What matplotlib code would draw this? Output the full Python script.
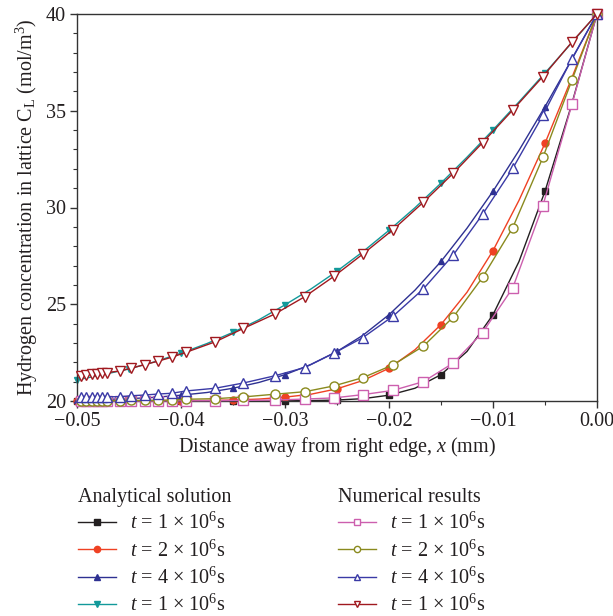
import matplotlib
matplotlib.use("Agg")
import matplotlib.pyplot as plt
from matplotlib.ticker import MultipleLocator, FuncFormatter
from matplotlib.lines import Line2D

plt.rcParams['font.family'] = ['Liberation Serif', 'DejaVu Serif']
plt.rcParams['mathtext.fontset'] = 'custom'
plt.rcParams['mathtext.rm'] = 'Liberation Serif'
plt.rcParams['mathtext.it'] = 'Liberation Serif:italic'

# ---- data ----
# analytical: x every 0.0025 mm (markers every 0.005 mm)
x_ana = [-0.05, -0.0475, -0.045, -0.0425, -0.04, -0.0375, -0.035, -0.0325, -0.03, -0.0275,
         -0.025, -0.0225, -0.02, -0.0175, -0.015, -0.0125, -0.01, -0.0075, -0.005, -0.0025, 0.0]
ana_t1 = [20.0, 20.0, 20.0, 20.0, 20.0, 20.0, 20.0, 20.0, 20.01, 20.02,
          20.05, 20.12, 20.30, 20.66, 21.36, 22.56, 24.46, 27.21, 30.84, 35.21, 40.0]
ana_t2 = [20.0, 20.0, 20.0, 20.0, 20.01, 20.03, 20.05, 20.10, 20.20, 20.35,
          20.63, 21.06, 21.69, 22.65, 23.95, 25.62, 27.77, 30.37, 33.32, 36.59, 40.0]
ana_t4 = [20.05, 20.08, 20.12, 20.19, 20.30, 20.44, 20.66, 20.96, 21.36, 21.89,
          22.56, 23.40, 24.46, 25.73, 27.21, 28.93, 30.84, 32.95, 35.21, 37.58, 40.0]
ana_t10 = [21.09, 21.36, 21.66, 22.03, 22.47, 22.97, 23.55, 24.20, 24.97, 25.79,
           26.71, 27.72, 28.82, 29.99, 31.26, 32.60, 34.01, 35.46, 36.95, 38.47, 40.0]

# numerical: non-uniform mesh
x_num = [-0.0496, -0.0491, -0.0486, -0.0481, -0.0476, -0.0471, -0.0459, -0.0448, -0.0435,
         -0.0422, -0.0409, -0.0395, -0.0367, -0.0340, -0.0310, -0.0281, -0.0253, -0.0225,
         -0.0196, -0.0167, -0.0138, -0.0110, -0.0081, -0.0052, -0.0024, 0.0]
num_t1 = [20.0, 20.0, 20.0, 20.0, 20.0, 20.0, 20.0, 20.0, 20.0, 20.0, 20.01, 20.01, 20.02,
          20.03, 20.05, 20.10, 20.16, 20.33, 20.55, 21.0, 21.97, 23.54, 25.85, 30.10, 35.35, 40.0]
num_t2 = [20.01, 20.01, 20.01, 20.01, 20.01, 20.02, 20.02, 20.03, 20.03, 20.04, 20.05, 20.09,
          20.12, 20.21, 20.35, 20.48, 20.78, 21.21, 21.87, 22.83, 24.35, 26.39, 28.96, 32.59,
          36.6, 40.0]
num_t4 = [20.2, 20.2, 20.2, 20.21, 20.21, 20.22, 20.22, 20.27, 20.31, 20.36, 20.40, 20.52,
          20.66, 20.93, 21.30, 21.73, 22.47, 23.28, 24.39, 25.79, 27.56, 29.65, 32.02, 34.77,
          37.7, 40.0]
num_t10 = [21.30, 21.35, 21.38, 21.41, 21.45, 21.47, 21.55, 21.69, 21.88, 22.06, 22.26, 22.52,
           23.06, 23.75, 24.49, 25.39, 26.44, 27.60, 28.86, 30.27, 31.78, 33.35, 35.04, 36.77,
           38.56, 40.0]

labels = [r"$t$ = 1 × 10$^6$s", r"$t$ = 2 × 10$^6$s", r"$t$ = 4 × 10$^6$s", r"$t$ = 1 × 10$^6$s"]

ana_series = [ana_t1, ana_t2, ana_t4, ana_t10]
ana_colors = ['#231f20', '#ef4123', '#2e3192', '#12999a']
ana_markers = ['s', 'o', '^', 'v']

num_series = [num_t1, num_t2, num_t4, num_t10]
num_colors = ['#cc5fae', '#8a8a1e', '#3a3aa6', '#a0191f']
num_markers = ['s', 'o', '^', 'v']

fig = plt.figure(figsize=(6.13, 6.16), dpi=100)
ax = fig.add_axes([77/613, 1-401/616, 520/613, 387/616])

ana_handles = []
for ys, c, m, lab in zip(ana_series, ana_colors, ana_markers, labels):
    ax.plot(x_ana, ys, color=c, lw=1.0, marker=m, markevery=2, ms=5,
            mfc=c, mec=c, zorder=2, clip_on=False)
    ana_handles.append(Line2D([], [], color=c, lw=1.0, marker=m, ms=4.5, mfc=c, mec=c))

num_handles = []
for ys, c, m, lab in zip(num_series, num_colors, num_markers, labels):
    ax.plot(x_num, ys, color=c, lw=1.0, marker=m, ms=6.5, mfc='white', mec=c,
            mew=1.0, zorder=3, clip_on=False)
    num_handles.append(Line2D([], [], color=c, lw=1.0, marker=m, ms=4.5, mfc='white', mec=c, mew=1.0))

ax.set_xlim(-0.05, 0.0)
ax.set_ylim(20, 40)
ax.xaxis.set_major_locator(MultipleLocator(0.01))
ax.xaxis.set_minor_locator(MultipleLocator(0.005))
ax.yaxis.set_major_locator(MultipleLocator(5))
ax.yaxis.set_minor_locator(MultipleLocator(1))

def fmt(v, pos):
    if abs(v) < 1e-9:
        return "0.00"
    return f"{v:.2f}".replace('-', '\u2212')
ax.xaxis.set_major_formatter(FuncFormatter(fmt))

for s in ax.spines.values():
    s.set_color('#333333')
    s.set_linewidth(1.0)
ax.tick_params(which='both', direction='out', top=False, right=False,
               color='#333333', labelsize=14.5, labelcolor='#231f20')
ax.tick_params(which='major', length=5, width=1.0, pad=3)
ax.tick_params(which='minor', length=3, width=0.8)

ax.set_xlabel(r"Distance away from right edge, $x$ (mm)", fontsize=14.5, color='#231f20', labelpad=3)
ax.set_ylabel(r"Hydrogen concentration in lattice C$_{\mathrm{L}}$ (mol/m$^3$)", fontsize=14.5,
              color='#231f20', labelpad=4)

leg_kw = dict(frameon=False, fontsize=14.5, title_fontsize=14.5, loc='upper left',
              borderpad=0, borderaxespad=0, handlelength=1.9, handletextpad=0.7,
              labelspacing=0.3)
leg1 = fig.legend(ana_handles, labels, title="Analytical solution",
                  bbox_to_anchor=(78/613, 1-488/616), **leg_kw)
leg1._legend_box.align = "left"
leg2 = fig.legend(num_handles, labels, title="Numerical results",
                  bbox_to_anchor=(338/613, 1-488/616), **leg_kw)
leg2._legend_box.align = "left"
for lg in (leg1, leg2):
    lg.get_title().set_color('#231f20')
    for t in lg.get_texts():
        t.set_color('#231f20')

fig.savefig("out.png", dpi=100)
